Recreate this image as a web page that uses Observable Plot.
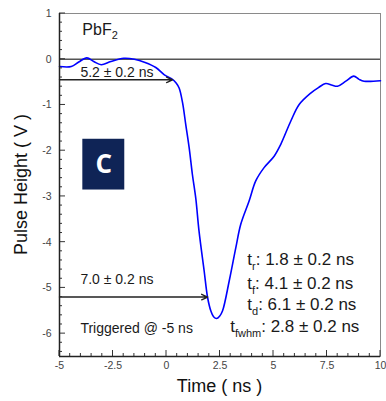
<!DOCTYPE html>
<html><head><meta charset="utf-8">
<script src="https://cdn.jsdelivr.net/npm/d3@7"></script>
<script src="https://cdn.jsdelivr.net/npm/@observablehq/plot@0.6"></script>
<style>body{margin:0;background:#fff}</style>
</head><body><div id="chart"></div>
<script>
// ---- data ----
const timeNs = [-5, -4.45, -4.1, -3.72, -3.4, -3.05, -2.6, -2.0, -1.5, -1.0, -0.5, -0.1, 0.28, 0.45, 0.59, 0.75, 0.9, 1.06, 1.21, 1.37, 1.52, 1.76, 1.92, 2.07, 2.2, 2.34, 2.48, 2.62, 2.93, 3.24, 3.47, 3.86, 4.17, 4.56, 5.03, 5.34, 5.81, 6.2, 6.74, 7.1, 7.44, 7.75, 7.99, 8.38, 8.75, 9.0, 9.23, 10];
const pulseV = [-0.16, -0.16, -0.06, 0.03, -0.05, -0.12, -0.05, 0.02, 0.0, -0.07, -0.18, -0.34, -0.44, -0.52, -0.63, -0.95, -1.43, -1.94, -2.52, -3.05, -3.76, -4.63, -5.21, -5.50, -5.63, -5.67, -5.62, -5.50, -4.85, -4.12, -3.61, -3.10, -2.66, -2.37, -2.12, -1.86, -1.35, -0.99, -0.74, -0.62, -0.53, -0.57, -0.59, -0.48, -0.37, -0.44, -0.48, -0.47];

const xTickLabels = [-5, -2.5, 0, 2.5, 5, 7.5, 10];
const yTickLabels = [-6, -5, -4, -3, -2, -1, 0, 1];
const xMinorTicks = d3.range(-10, 21).map(i => i / 2);
const yMinorTicks = d3.range(-32, 6).map(i => i / 5);

const arrowStartX = [-5, -5];
const arrowEndX = [0.28, 1.92];
const arrowY = [-0.45, -5.2];
const arrowLabels = ["5.2 \u00b1 0.2 ns", "7.0 \u00b1 0.2 ns"];
const arrowLabelX = [-4.0, -4.0];
const arrowLabelY = [-0.41, -4.93];

const measureSym = ["r", "f", "d", "fwhm"];
const measureVal = [": 1.8 \u00b1 0.2 ns", ": 4.1 \u00b1 0.2 ns", ": 6.1 \u00b1 0.2 ns", ": 2.8 \u00b1 0.2 ns"];
const measureX = [3.8, 3.8, 3.8, 3.0];
const measureY = [-4.52, -5.03, -5.5, -5.97];

const materialMain = "PbF", materialSub = "2";
const materialPos = [-3.91, 0.52];
const triggerText = "Triggered @ -5 ns";
const triggerPos = [-4.0, -6.0];
const panelBox = [{x1: -3.91, x2: -1.95, y1: -1.75, y2: -2.86, label: "C"}];
const xTitle = "Time ( ns )";
const yTitle = "Pulse Height ( V )";

const FONT = "'Liberation Sans', Arial, Helvetica, sans-serif";
const pulse = timeNs.map((t, i) => ({t, v: pulseV[i]}));
const arrows = arrowEndX.map((x2, i) => ({x1: arrowStartX[i], x2, y: arrowY[i], label: arrowLabels[i], lx: arrowLabelX[i], ly: arrowLabelY[i]}));

// inward tick marks, positioned through Plot's scales
function tickMarks(index, {x, y}) {
  const g = d3.create("svg:g").attr("stroke", "#333").attr("stroke-width", 1);
  const [x0] = x.domain ? x.domain() : [-5];
  const yb = y(-6.5), xl = x(-5);
  xMinorTicks.forEach(v => {
    const len = xTickLabels.includes(v) ? 6 : 3;
    g.append("line").attr("x1", x(v)).attr("x2", x(v)).attr("y1", yb).attr("y2", yb - len);
  });
  yMinorTicks.forEach(v => {
    const len = yTickLabels.includes(Math.round(v * 10) / 10) ? 6 : 3;
    g.append("line").attr("x1", xl).attr("x2", xl + len).attr("y1", y(v)).attr("y2", y(v));
  });
  return g.node();
}

function annotations(index, {x, y}, values, dims) {
  const g = d3.create("svg:g").attr("font-family", FONT).attr("fill", "#1a1a1a").attr("text-anchor", "start");
  const m = g.append("text").attr("x", x(materialPos[0])).attr("y", y(materialPos[1])).attr("font-size", 16);
  m.append("tspan").text(materialMain);
  m.append("tspan").attr("font-size", 11).attr("dy", 4).text(materialSub);
  arrows.forEach(a => {
    g.append("text").attr("x", x(a.lx)).attr("y", y(a.ly)).attr("font-size", 14).text(a.label);
  });
  g.append("text").attr("x", x(triggerPos[0])).attr("y", y(triggerPos[1])).attr("font-size", 14).text(triggerText);
  measureSym.forEach((s, i) => {
    const t = g.append("text").attr("x", x(measureX[i])).attr("y", y(measureY[i])).attr("font-size", 17);
    t.append("tspan").text("t");
    t.append("tspan").attr("font-size", 11).attr("dy", 5).text(s);
    t.append("tspan").attr("font-size", 17).attr("dy", -5).text(measureVal[i]);
  });
  const {width, height, marginLeft, marginRight, marginTop, marginBottom} = dims;
  g.append("text").attr("x", (marginLeft + width - marginRight) / 2).attr("y", height - 9)
    .attr("text-anchor", "middle").attr("font-size", 18).attr("fill", "#111").text(xTitle);
  const cy = (marginTop + height - marginBottom) / 2;
  g.append("text").attr("transform", `translate(27,${cy}) rotate(-90)`)
    .attr("text-anchor", "middle").attr("font-size", 18).attr("fill", "#111").text(yTitle);
  return g.node();
}

const plot = Plot.plot({
  width: 386, height: 401,
  marginLeft: 59, marginRight: 6, marginTop: 13, marginBottom: 45,
  x: {domain: [-5, 10]},
  y: {domain: [-6.5, 1]},
  style: {fontFamily: FONT, background: "#fff", overflow: "visible"},
  marks: [
    Plot.frame({stroke: "#8a8a8a", strokeWidth: 1}),
    Plot.ruleY([0], {stroke: "#555", strokeWidth: 1.4}),
    Plot.rect(panelBox, {x1: "x1", x2: "x2", y1: "y1", y2: "y2", fill: "#0f2456"}),
    Plot.text(panelBox, {x: d => (d.x1 + d.x2) / 2, y: d => (d.y1 + d.y2) / 2, text: "label", fill: "white",
      fontSize: 26, fontWeight: "bold", fontFamily: "'Open Sans', sans-serif"}),
    Plot.line(pulse, {x: "t", y: "v", stroke: "#0000ff", strokeWidth: 1.6, curve: "catmull-rom"}),
    Plot.arrow(arrows, {x1: "x1", x2: "x2", y1: "y", y2: "y", stroke: "#222", strokeWidth: 1.4, headLength: 7, headAngle: 50}),
    Plot.axisX(xTickLabels, {anchor: "bottom", tickSize: 0, tickPadding: 5, fontSize: 10.5, fill: "#444",
      tickFormat: d => String(d), label: null}),
    Plot.axisY(yTickLabels, {anchor: "left", tickSize: 0, tickPadding: 8, fontSize: 10.5, fill: "#444",
      tickFormat: d => String(d), label: null}),
    tickMarks,
    Plot.ruleX([-5], {stroke: "#222", strokeWidth: 1.5}),
    Plot.ruleY([-6.5], {stroke: "#222", strokeWidth: 1.5}),
    annotations
  ]
});
document.getElementById("chart").appendChild(plot);
</script>
</body></html>
